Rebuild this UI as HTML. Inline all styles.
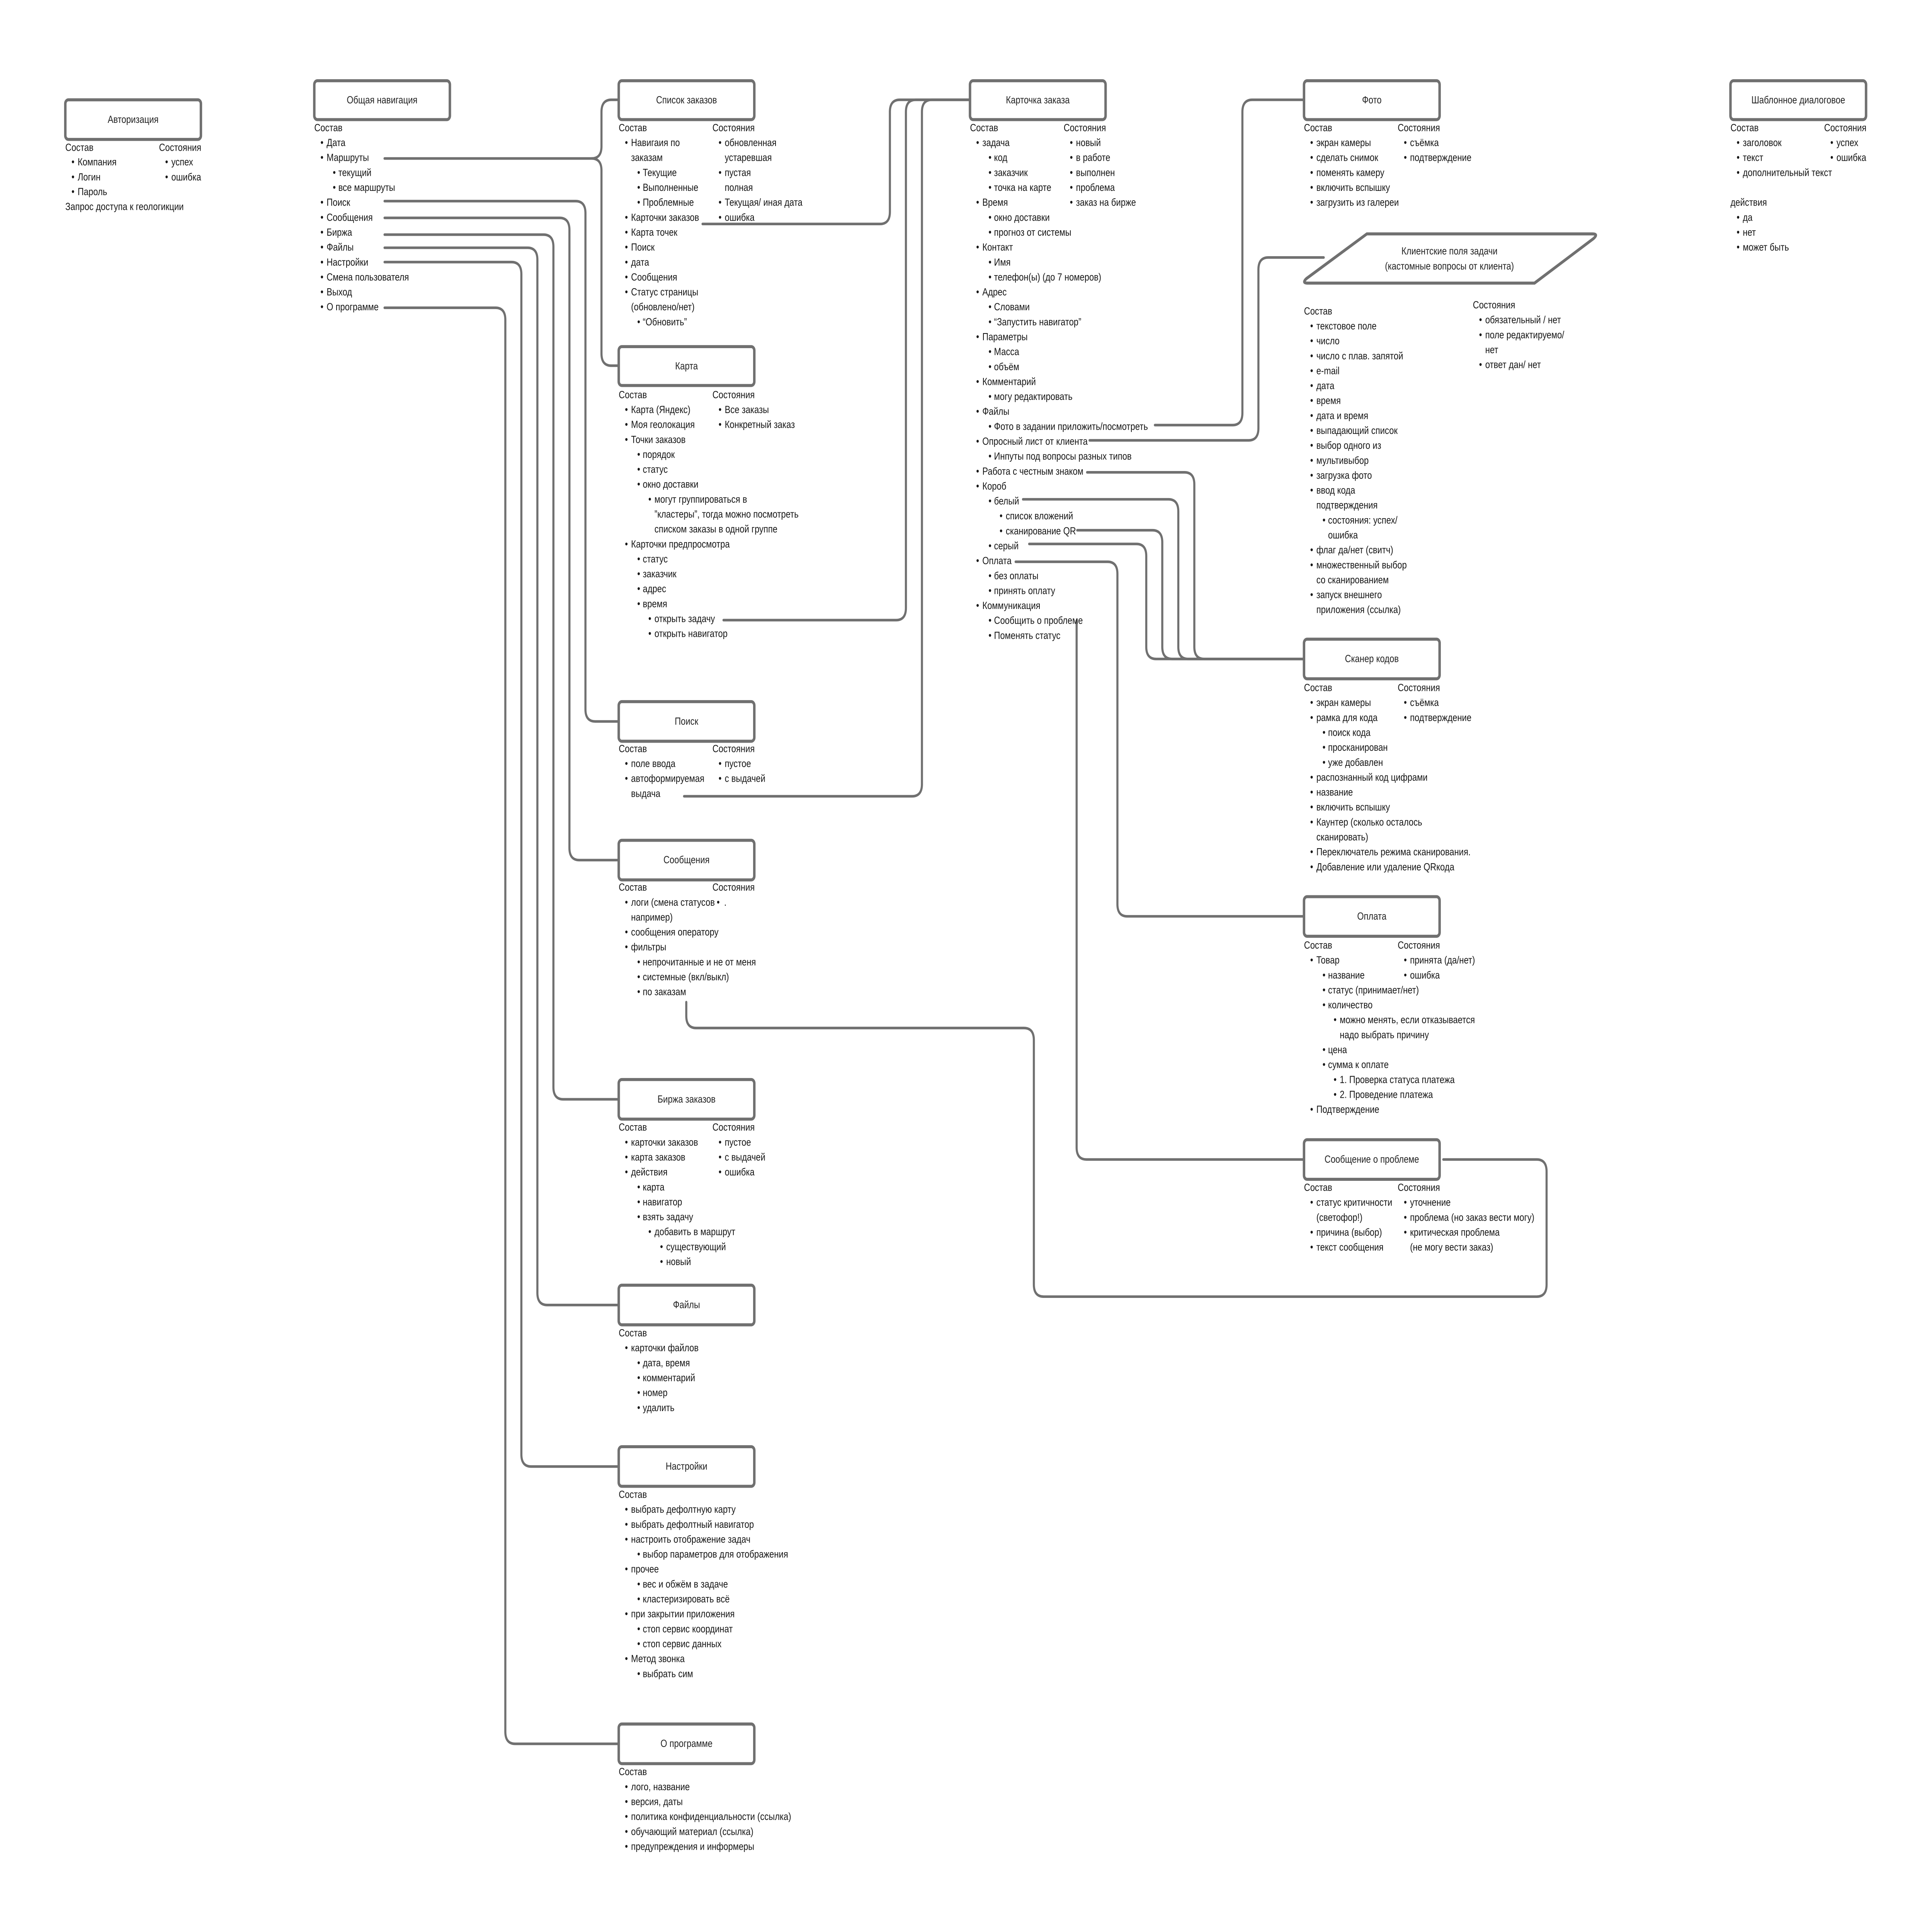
<!DOCTYPE html>
<html><head><meta charset="utf-8">
<style>
html,body{margin:0;padding:0;background:#fff;width:100%;height:100%;overflow:hidden;}
svg{display:block;width:100vw;height:100vh;}
text{font-family:"Liberation Sans",sans-serif;font-size:6.9px;fill:#161616;dominant-baseline:central;}
.t{text-anchor:middle;font-size:6.9px;fill:#222;}
.b{stroke:#707070;stroke-width:2;fill:#fff;}
.c{stroke:#707070;stroke-width:1.7;fill:none;stroke-linecap:round;}
</style></head>
<body>
<svg viewBox="0 0 1567.5 1268" preserveAspectRatio="none" xmlns="http://www.w3.org/2000/svg">
<rect x="0" y="0" width="1567.5" height="1268" fill="#fff"/>

<!-- connectors -->
<path class="c" d="M312,104 H480 Q488,104 488,96 V73.5 Q488,65.5 496,65.5 H502"/>
<path class="c" d="M480,104 Q488,104 488,112 V232 Q488,240 496,240 H502"/>
<path class="c" d="M312,132 H467 Q475,132 475,140 V465.5 Q475,473.5 483,473.5 H502"/>
<path class="c" d="M312,143 H454 Q462,143 462,151 V556.5 Q462,564.5 470,564.5 H502"/>
<path class="c" d="M312,154 H441 Q449,154 449,162 V713.5 Q449,721.5 457,721.5 H502"/>
<path class="c" d="M312,162.6 H428 Q436,162.6 436,170.6 V848.5 Q436,856.5 444,856.5 H502"/>
<path class="c" d="M312,172 H415 Q423,172 423,180 V954.5 Q423,962.5 431,962.5 H502"/>
<path class="c" d="M312,202 H402 Q410,202 410,210 V1136.5 Q410,1144.5 418,1144.5 H502"/>

<path class="c" d="M570,147 H714 Q722,147 722,139 V73.5 Q722,65.5 730,65.5 H787"/>
<path class="c" d="M587,407 H727 Q735,407 735,399 V73.5 Q735,65.5 743,65.5 H787"/>
<path class="c" d="M555,522.6 H740 Q748,522.6 748,514.6 V73.5 Q748,65.5 756,65.5 H787"/>

<path class="c" d="M937,279 H1000 Q1008,279 1008,271 V73.5 Q1008,65.5 1016,65.5 H1058"/>
<path class="c" d="M884,289 H1013 Q1021,289 1021,281 V177 Q1021,169 1029,169 H1074"/>
<path class="c" d="M882,310 H961 Q969,310 969,318 V424.5 Q969,432.5 977,432.5 H1058"/>
<path class="c" d="M830,327.7 H948 Q956,327.7 956,335.7 V424.5 Q956,432.5 964,432.5 H1058"/>
<path class="c" d="M874,348 H935 Q943,348 943,356 V424.5 Q943,432.5 951,432.5 H1058"/>
<path class="c" d="M835,357 H922 Q930,357 930,365 V424.5 Q930,432.5 938,432.5 H1058"/>
<path class="c" d="M824,368.7 H898.6 Q906.6,368.7 906.6,376.7 V593.4 Q906.6,601.4 914.6,601.4 H1058"/>
<path class="c" d="M873.5,407.5 V753 Q873.5,761 881.5,761 H1058"/>
<path class="c" d="M556.8,657.7 V666.7 Q556.8,674.7 564.8,674.7 H830.8 Q838.8,674.7 838.8,682.7 V843 Q838.8,851 846.8,851 H1246.8 Q1254.8,851 1254.8,843 V769 Q1254.8,761 1246.8,761 H1171"/>

<!-- boxes -->
<rect class="b" x="53" y="65.5" width="110" height="26" rx="2.5"/><text class="t" x="108" y="78.5">Авторизация</text>
<rect class="b" x="255" y="53" width="110" height="25.5" rx="2.5"/><text class="t" x="310" y="65.8">Общая навигация</text>
<rect class="b" x="502" y="53" width="110" height="25.5" rx="2.5"/><text class="t" x="557" y="65.8">Список заказов</text>
<rect class="b" x="502" y="227.5" width="110" height="25.5" rx="2.5"/><text class="t" x="557" y="240.3">Карта</text>
<rect class="b" x="502" y="460.5" width="110" height="26" rx="2.5"/><text class="t" x="557" y="473.5">Поиск</text>
<rect class="b" x="502" y="551.5" width="110" height="26" rx="2.5"/><text class="t" x="557" y="564.5">Сообщения</text>
<rect class="b" x="502" y="708.5" width="110" height="26" rx="2.5"/><text class="t" x="557" y="721.5">Биржа заказов</text>
<rect class="b" x="502" y="843.5" width="110" height="26" rx="2.5"/><text class="t" x="557" y="856.5">Файлы</text>
<rect class="b" x="502" y="949.5" width="110" height="26" rx="2.5"/><text class="t" x="557" y="962.5">Настройки</text>
<rect class="b" x="502" y="1131.5" width="110" height="26" rx="2.5"/><text class="t" x="557" y="1144.5">О программе</text>
<rect class="b" x="787" y="53" width="110" height="25.5" rx="2.5"/><text class="t" x="842" y="65.8">Карточка заказа</text>
<rect class="b" x="1058" y="53" width="110" height="25.5" rx="2.5"/><text class="t" x="1113" y="65.8">Фото</text>
<rect class="b" x="1404" y="53" width="110" height="25.5" rx="2.5"/><text class="t" x="1459" y="65.8">Шаблонное диалоговое</text>
<rect class="b" x="1058" y="419.5" width="110" height="26" rx="2.5"/><text class="t" x="1113" y="432.5">Сканер кодов</text>
<rect class="b" x="1058" y="588.5" width="110" height="26" rx="2.5"/><text class="t" x="1113" y="601.5">Оплата</text>
<rect class="b" x="1058" y="748" width="110" height="26" rx="2.5"/><text class="t" x="1113" y="761">Сообщение о проблеме</text>
<path class="b" d="M1109,153.5 H1292 Q1297,153.5 1293,156.5 L1245,185.8 H1061 Q1056,185.8 1060,182.8 Z"/>
<text class="t" x="1176" y="164.9">Клиентские поля задачи</text>
<text class="t" x="1176" y="174.8">(кастомные вопросы от клиента)</text>

<!-- Авторизация -->
<g transform="translate(53,0)">
<text x="0" y="97">Состав</text>
<text x="5" y="106.5">•</text><text x="10" y="106.5">Компания</text>
<text x="5" y="116.3">•</text><text x="10" y="116.3">Логин</text>
<text x="5" y="126">•</text><text x="10" y="126">Пароль</text>
<text x="0" y="135.8">Запрос доступа к геологикции</text>
</g>
<g transform="translate(129,0)">
<text x="0" y="97">Состояния</text>
<text x="5" y="106.5">•</text><text x="10" y="106.5">успех</text>
<text x="5" y="116.3">•</text><text x="10" y="116.3">ошибка</text>
</g>

<!-- Общая навигация -->
<g transform="translate(255,0)">
<text x="0" y="84">Состав</text>
<text x="5" y="93.8">•</text><text x="10" y="93.8">Дата</text>
<text x="5" y="103.6">•</text><text x="10" y="103.6">Маршруты</text>
<text x="15" y="113.4">•</text><text x="19.5" y="113.4">текущий</text>
<text x="15" y="123.2">•</text><text x="19.5" y="123.2">все маршруты</text>
<text x="5" y="133">•</text><text x="10" y="133">Поиск</text>
<text x="5" y="142.8">•</text><text x="10" y="142.8">Сообщения</text>
<text x="5" y="152.6">•</text><text x="10" y="152.6">Биржа</text>
<text x="5" y="162.4">•</text><text x="10" y="162.4">Файлы</text>
<text x="5" y="172.2">•</text><text x="10" y="172.2">Настройки</text>
<text x="5" y="182">•</text><text x="10" y="182">Смена пользователя</text>
<text x="5" y="191.8">•</text><text x="10" y="191.8">Выход</text>
<text x="5" y="201.6">•</text><text x="10" y="201.6">О программе</text>
</g>

<!-- Список заказов -->
<g transform="translate(502,0)">
<text x="0" y="84">Состав</text>
<text x="5" y="93.8">•</text><text x="10" y="93.8">Навигаия по</text>
<text x="10" y="103.6">заказам</text>
<text x="15" y="113.4">•</text><text x="19.5" y="113.4">Текущие</text>
<text x="15" y="123.2">•</text><text x="19.5" y="123.2">Выполненные</text>
<text x="15" y="133">•</text><text x="19.5" y="133">Проблемные</text>
<text x="5" y="142.8">•</text><text x="10" y="142.8">Карточки заказов</text>
<text x="5" y="152.6">•</text><text x="10" y="152.6">Карта точек</text>
<text x="5" y="162.4">•</text><text x="10" y="162.4">Поиск</text>
<text x="5" y="172.2">•</text><text x="10" y="172.2">дата</text>
<text x="5" y="182">•</text><text x="10" y="182">Сообщения</text>
<text x="5" y="191.8">•</text><text x="10" y="191.8">Статус страницы</text>
<text x="10" y="201.6">(обновлено/нет)</text>
<text x="15" y="211.4">•</text><text x="19.5" y="211.4">“Обновить”</text>
</g>
<g transform="translate(578,0)">
<text x="0" y="84">Состояния</text>
<text x="5" y="93.8">•</text><text x="10" y="93.8">обновленная</text>
<text x="10" y="103.6">устаревшая</text>
<text x="5" y="113.4">•</text><text x="10" y="113.4">пустая</text>
<text x="10" y="123.2">полная</text>
<text x="5" y="133">•</text><text x="10" y="133">Текущая/ иная дата</text>
<text x="5" y="142.8">•</text><text x="10" y="142.8">ошибка</text>
</g>

<!-- Карта -->
<g transform="translate(502,0)">
<text x="0" y="259.2">Состав</text>
<text x="5" y="269">•</text><text x="10" y="269">Карта (Яндекс)</text>
<text x="5" y="278.8">•</text><text x="10" y="278.8">Моя геолокация</text>
<text x="5" y="288.6">•</text><text x="10" y="288.6">Точки заказов</text>
<text x="15" y="298.4">•</text><text x="19.5" y="298.4">порядок</text>
<text x="15" y="308.2">•</text><text x="19.5" y="308.2">статус</text>
<text x="15" y="318">•</text><text x="19.5" y="318">окно доставки</text>
<text x="24" y="327.8">•</text><text x="29" y="327.8">могут группироваться в</text>
<text x="29" y="337.6">”кластеры”, тогда можно посмотреть</text>
<text x="29" y="347.4">списком заказы в одной группе</text>
<text x="5" y="357.2">•</text><text x="10" y="357.2">Карточки предпросмотра</text>
<text x="15" y="367">•</text><text x="19.5" y="367">статус</text>
<text x="15" y="376.8">•</text><text x="19.5" y="376.8">заказчик</text>
<text x="15" y="386.6">•</text><text x="19.5" y="386.6">адрес</text>
<text x="15" y="396.4">•</text><text x="19.5" y="396.4">время</text>
<text x="24" y="406.2">•</text><text x="29" y="406.2">открыть задачу</text>
<text x="24" y="416">•</text><text x="29" y="416">открыть навигатор</text>
</g>
<g transform="translate(578,0)">
<text x="0" y="259.2">Состояния</text>
<text x="5" y="269">•</text><text x="10" y="269">Все заказы</text>
<text x="5" y="278.8">•</text><text x="10" y="278.8">Конкретный заказ</text>
</g>

<!-- Поиск -->
<g transform="translate(502,0)">
<text x="0" y="491.5">Состав</text>
<text x="5" y="501.3">•</text><text x="10" y="501.3">поле ввода</text>
<text x="5" y="511.1">•</text><text x="10" y="511.1">автоформируемая</text>
<text x="10" y="520.9">выдача</text>
</g>
<g transform="translate(578,0)">
<text x="0" y="491.5">Состояния</text>
<text x="5" y="501.3">•</text><text x="10" y="501.3">пустое</text>
<text x="5" y="511.1">•</text><text x="10" y="511.1">с выдачей</text>
</g>

<!-- Сообщения -->
<g transform="translate(502,0)">
<text x="0" y="582.5">Состав</text>
<text x="5" y="592.3">•</text><text x="10" y="592.3">логи (смена статусов</text>
<text x="10" y="602.1">например)</text>
<text x="5" y="611.9">•</text><text x="10" y="611.9">сообщения оператору</text>
<text x="5" y="621.7">•</text><text x="10" y="621.7">фильтры</text>
<text x="15" y="631.5">•</text><text x="19.5" y="631.5">непрочитанные и не от меня</text>
<text x="15" y="641.3">•</text><text x="19.5" y="641.3">системные (вкл/выкл)</text>
<text x="15" y="651.1">•</text><text x="19.5" y="651.1">по заказам</text>
</g>
<g transform="translate(578,0)">
<text x="0" y="582.5">Состояния</text>
<text x="3.5" y="592.3">•</text><text x="9.5" y="592.3">.</text>
</g>

<!-- Биржа -->
<g transform="translate(502,0)">
<text x="0" y="740">Состав</text>
<text x="5" y="749.8">•</text><text x="10" y="749.8">карточки заказов</text>
<text x="5" y="759.6">•</text><text x="10" y="759.6">карта заказов</text>
<text x="5" y="769.4">•</text><text x="10" y="769.4">действия</text>
<text x="15" y="779.2">•</text><text x="19.5" y="779.2">карта</text>
<text x="15" y="789">•</text><text x="19.5" y="789">навигатор</text>
<text x="15" y="798.8">•</text><text x="19.5" y="798.8">взять задачу</text>
<text x="24" y="808.6">•</text><text x="29" y="808.6">добавить в маршрут</text>
<text x="33.5" y="818.4">•</text><text x="38.5" y="818.4">существующий</text>
<text x="33.5" y="828.2">•</text><text x="38.5" y="828.2">новый</text>
</g>
<g transform="translate(578,0)">
<text x="0" y="740">Состояния</text>
<text x="5" y="749.8">•</text><text x="10" y="749.8">пустое</text>
<text x="5" y="759.6">•</text><text x="10" y="759.6">с выдачей</text>
<text x="5" y="769.4">•</text><text x="10" y="769.4">ошибка</text>
</g>

<!-- Файлы -->
<g transform="translate(502,0)">
<text x="0" y="875">Состав</text>
<text x="5" y="884.8">•</text><text x="10" y="884.8">карточки файлов</text>
<text x="15" y="894.6">•</text><text x="19.5" y="894.6">дата, время</text>
<text x="15" y="904.4">•</text><text x="19.5" y="904.4">комментарий</text>
<text x="15" y="914.2">•</text><text x="19.5" y="914.2">номер</text>
<text x="15" y="924">•</text><text x="19.5" y="924">удалить</text>
</g>

<!-- Настройки -->
<g transform="translate(502,0)">
<text x="0" y="981">Состав</text>
<text x="5" y="990.8">•</text><text x="10" y="990.8">выбрать дефолтную карту</text>
<text x="5" y="1000.6">•</text><text x="10" y="1000.6">выбрать дефолтный навигатор</text>
<text x="5" y="1010.4">•</text><text x="10" y="1010.4">настроить отображение задач</text>
<text x="15" y="1020.2">•</text><text x="19.5" y="1020.2">выбор параметров для отображения</text>
<text x="5" y="1030">•</text><text x="10" y="1030">прочее</text>
<text x="15" y="1039.8">•</text><text x="19.5" y="1039.8">вес и обжём в задаче</text>
<text x="15" y="1049.6">•</text><text x="19.5" y="1049.6">кластеризировать всё</text>
<text x="5" y="1059.4">•</text><text x="10" y="1059.4">при закрытии приложения</text>
<text x="15" y="1069.2">•</text><text x="19.5" y="1069.2">стоп сервис координат</text>
<text x="15" y="1079">•</text><text x="19.5" y="1079">стоп сервис данных</text>
<text x="5" y="1088.8">•</text><text x="10" y="1088.8">Метод звонка</text>
<text x="15" y="1098.6">•</text><text x="19.5" y="1098.6">выбрать сим</text>
</g>

<!-- О программе -->
<g transform="translate(502,0)">
<text x="0" y="1163">Состав</text>
<text x="5" y="1172.8">•</text><text x="10" y="1172.8">лого, название</text>
<text x="5" y="1182.6">•</text><text x="10" y="1182.6">версия, даты</text>
<text x="5" y="1192.4">•</text><text x="10" y="1192.4">политика конфиденциальности (ссылка)</text>
<text x="5" y="1202.2">•</text><text x="10" y="1202.2">обучающий материал (ссылка)</text>
<text x="5" y="1212">•</text><text x="10" y="1212">предупреждения и информеры</text>
</g>

<!-- Карточка заказа -->
<g transform="translate(787,0)">
<text x="0" y="84">Состав</text>
<text x="5" y="93.8">•</text><text x="10" y="93.8">задача</text>
<text x="15" y="103.6">•</text><text x="19.5" y="103.6">код</text>
<text x="15" y="113.4">•</text><text x="19.5" y="113.4">заказчик</text>
<text x="15" y="123.2">•</text><text x="19.5" y="123.2">точка на карте</text>
<text x="5" y="133">•</text><text x="10" y="133">Время</text>
<text x="15" y="142.8">•</text><text x="19.5" y="142.8">окно доставки</text>
<text x="15" y="152.6">•</text><text x="19.5" y="152.6">прогноз от системы</text>
<text x="5" y="162.4">•</text><text x="10" y="162.4">Контакт</text>
<text x="15" y="172.2">•</text><text x="19.5" y="172.2">Имя</text>
<text x="15" y="182">•</text><text x="19.5" y="182">телефон(ы) (до 7 номеров)</text>
<text x="5" y="191.8">•</text><text x="10" y="191.8">Адрес</text>
<text x="15" y="201.6">•</text><text x="19.5" y="201.6">Словами</text>
<text x="15" y="211.4">•</text><text x="19.5" y="211.4">“Запустить навигатор”</text>
<text x="5" y="221.2">•</text><text x="10" y="221.2">Параметры</text>
<text x="15" y="231">•</text><text x="19.5" y="231">Масса</text>
<text x="15" y="240.8">•</text><text x="19.5" y="240.8">объём</text>
<text x="5" y="250.6">•</text><text x="10" y="250.6">Комментарий</text>
<text x="15" y="260.4">•</text><text x="19.5" y="260.4">могу редактировать</text>
<text x="5" y="270.2">•</text><text x="10" y="270.2">Файлы</text>
<text x="15" y="280">•</text><text x="19.5" y="280">Фото в задании приложить/посмотреть</text>
<text x="5" y="289.8">•</text><text x="10" y="289.8">Опросный лист от клиента</text>
<text x="15" y="299.6">•</text><text x="19.5" y="299.6">Инпуты под вопросы разных типов</text>
<text x="5" y="309.4">•</text><text x="10" y="309.4">Работа с честным знаком</text>
<text x="5" y="319.2">•</text><text x="10" y="319.2">Короб</text>
<text x="15" y="329">•</text><text x="19.5" y="329">белый</text>
<text x="24" y="338.8">•</text><text x="29" y="338.8">список вложений</text>
<text x="24" y="348.6">•</text><text x="29" y="348.6">сканирование QR</text>
<text x="15" y="358.4">•</text><text x="19.5" y="358.4">серый</text>
<text x="5" y="368.2">•</text><text x="10" y="368.2">Оплата</text>
<text x="15" y="378">•</text><text x="19.5" y="378">без оплаты</text>
<text x="15" y="387.8">•</text><text x="19.5" y="387.8">принять оплату</text>
<text x="5" y="397.6">•</text><text x="10" y="397.6">Коммуникация</text>
<text x="15" y="407.4">•</text><text x="19.5" y="407.4">Сообщить о проблеме</text>
<text x="15" y="417.2">•</text><text x="19.5" y="417.2">Поменять статус</text>
</g>
<g transform="translate(863,0)">
<text x="0" y="84">Состояния</text>
<text x="5" y="93.8">•</text><text x="10" y="93.8">новый</text>
<text x="5" y="103.6">•</text><text x="10" y="103.6">в работе</text>
<text x="5" y="113.4">•</text><text x="10" y="113.4">выполнен</text>
<text x="5" y="123.2">•</text><text x="10" y="123.2">проблема</text>
<text x="5" y="133">•</text><text x="10" y="133">заказ на бирже</text>
</g>

<!-- Фото -->
<g transform="translate(1058,0)">
<text x="0" y="84">Состав</text>
<text x="5" y="93.8">•</text><text x="10" y="93.8">экран камеры</text>
<text x="5" y="103.6">•</text><text x="10" y="103.6">сделать снимок</text>
<text x="5" y="113.4">•</text><text x="10" y="113.4">поменять камеру</text>
<text x="5" y="123.2">•</text><text x="10" y="123.2">включить вспышку</text>
<text x="5" y="133">•</text><text x="10" y="133">загрузить из галереи</text>
</g>
<g transform="translate(1134,0)">
<text x="0" y="84">Состояния</text>
<text x="5" y="93.8">•</text><text x="10" y="93.8">съёмка</text>
<text x="5" y="103.6">•</text><text x="10" y="103.6">подтверждение</text>
</g>

<!-- Шаблонное -->
<g transform="translate(1404,0)">
<text x="0" y="84">Состав</text>
<text x="5" y="93.8">•</text><text x="10" y="93.8">заголовок</text>
<text x="5" y="103.6">•</text><text x="10" y="103.6">текст</text>
<text x="5" y="113.4">•</text><text x="10" y="113.4">дополнительный текст</text>
<text x="0" y="133">действия</text>
<text x="5" y="142.8">•</text><text x="10" y="142.8">да</text>
<text x="5" y="152.6">•</text><text x="10" y="152.6">нет</text>
<text x="5" y="162.4">•</text><text x="10" y="162.4">может быть</text>
</g>
<g transform="translate(1480,0)">
<text x="0" y="84">Состояния</text>
<text x="5" y="93.8">•</text><text x="10" y="93.8">успех</text>
<text x="5" y="103.6">•</text><text x="10" y="103.6">ошибка</text>
</g>

<!-- Клиентские поля -->
<g transform="translate(1058,0)">
<text x="0" y="204.3">Состав</text>
<text x="5" y="214.1">•</text><text x="10" y="214.1">текстовое поле</text>
<text x="5" y="223.9">•</text><text x="10" y="223.9">число</text>
<text x="5" y="233.7">•</text><text x="10" y="233.7">число с плав. запятой</text>
<text x="5" y="243.5">•</text><text x="10" y="243.5">e-mail</text>
<text x="5" y="253.3">•</text><text x="10" y="253.3">дата</text>
<text x="5" y="263.1">•</text><text x="10" y="263.1">время</text>
<text x="5" y="272.9">•</text><text x="10" y="272.9">дата и время</text>
<text x="5" y="282.7">•</text><text x="10" y="282.7">выпадающий список</text>
<text x="5" y="292.5">•</text><text x="10" y="292.5">выбор одного из</text>
<text x="5" y="302.3">•</text><text x="10" y="302.3">мультивыбор</text>
<text x="5" y="312.1">•</text><text x="10" y="312.1">загрузка фото</text>
<text x="5" y="321.9">•</text><text x="10" y="321.9">ввод кода</text>
<text x="10" y="331.7">подтверждения</text>
<text x="15" y="341.5">•</text><text x="19.5" y="341.5">состояния: успех/</text>
<text x="19.5" y="351.3">ошибка</text>
<text x="5" y="361.1">•</text><text x="10" y="361.1">флаг да/нет (свитч)</text>
<text x="5" y="370.9">•</text><text x="10" y="370.9">множественный выбор</text>
<text x="10" y="380.7">со сканированием</text>
<text x="5" y="390.5">•</text><text x="10" y="390.5">запуск внешнего</text>
<text x="10" y="400.3">приложения (ссылка)</text>
</g>
<g transform="translate(1195,0)">
<text x="0" y="200.3">Состояния</text>
<text x="5" y="210.1">•</text><text x="10" y="210.1">обязательный / нет</text>
<text x="5" y="219.9">•</text><text x="10" y="219.9">поле редактируемо/</text>
<text x="10" y="229.7">нет</text>
<text x="5" y="239.5">•</text><text x="10" y="239.5">ответ дан/ нет</text>
</g>

<!-- Сканер кодов -->
<g transform="translate(1058,0)">
<text x="0" y="451.5">Состав</text>
<text x="5" y="461.3">•</text><text x="10" y="461.3">экран камеры</text>
<text x="5" y="471.1">•</text><text x="10" y="471.1">рамка для кода</text>
<text x="15" y="480.9">•</text><text x="19.5" y="480.9">поиск кода</text>
<text x="15" y="490.7">•</text><text x="19.5" y="490.7">просканирован</text>
<text x="15" y="500.5">•</text><text x="19.5" y="500.5">уже добавлен</text>
<text x="5" y="510.3">•</text><text x="10" y="510.3">распознанный код цифрами</text>
<text x="5" y="520.1">•</text><text x="10" y="520.1">название</text>
<text x="5" y="529.9">•</text><text x="10" y="529.9">включить вспышку</text>
<text x="5" y="539.7">•</text><text x="10" y="539.7">Каунтер (сколько осталось</text>
<text x="10" y="549.5">сканировать)</text>
<text x="5" y="559.3">•</text><text x="10" y="559.3">Переключатель режима сканирования.</text>
<text x="5" y="569.1">•</text><text x="10" y="569.1">Добавление или удаление QRкода</text>
</g>
<g transform="translate(1134,0)">
<text x="0" y="451.5">Состояния</text>
<text x="5" y="461.3">•</text><text x="10" y="461.3">съёмка</text>
<text x="5" y="471.1">•</text><text x="10" y="471.1">подтверждение</text>
</g>

<!-- Оплата -->
<g transform="translate(1058,0)">
<text x="0" y="620.5">Состав</text>
<text x="5" y="630.3">•</text><text x="10" y="630.3">Товар</text>
<text x="15" y="640.1">•</text><text x="19.5" y="640.1">название</text>
<text x="15" y="649.9">•</text><text x="19.5" y="649.9">статус (принимает/нет)</text>
<text x="15" y="659.7">•</text><text x="19.5" y="659.7">количество</text>
<text x="24" y="669.5">•</text><text x="29" y="669.5">можно менять, если отказывается</text>
<text x="29" y="679.3">надо выбрать причину</text>
<text x="15" y="689.1">•</text><text x="19.5" y="689.1">цена</text>
<text x="15" y="698.9">•</text><text x="19.5" y="698.9">сумма к оплате</text>
<text x="24" y="708.7">•</text><text x="29" y="708.7">1. Проверка статуса платежа</text>
<text x="24" y="718.5">•</text><text x="29" y="718.5">2. Проведение платежа</text>
<text x="5" y="728.3">•</text><text x="10" y="728.3">Подтверждение</text>
</g>
<g transform="translate(1134,0)">
<text x="0" y="620.5">Состояния</text>
<text x="5" y="630.3">•</text><text x="10" y="630.3">принята (да/нет)</text>
<text x="5" y="640.1">•</text><text x="10" y="640.1">ошибка</text>
</g>

<!-- Сообщение о проблеме -->
<g transform="translate(1058,0)">
<text x="0" y="779.5">Состав</text>
<text x="5" y="789.3">•</text><text x="10" y="789.3">статус критичности</text>
<text x="10" y="799.1">(светофор!)</text>
<text x="5" y="808.9">•</text><text x="10" y="808.9">причина (выбор)</text>
<text x="5" y="818.7">•</text><text x="10" y="818.7">текст сообщения</text>
</g>
<g transform="translate(1134,0)">
<text x="0" y="779.5">Состояния</text>
<text x="5" y="789.3">•</text><text x="10" y="789.3">уточнение</text>
<text x="5" y="799.1">•</text><text x="10" y="799.1">проблема (но заказ вести могу)</text>
<text x="5" y="808.9">•</text><text x="10" y="808.9">критическая проблема</text>
<text x="10" y="818.7">(не могу вести заказ)</text>
</g>
</svg>
</body></html>
